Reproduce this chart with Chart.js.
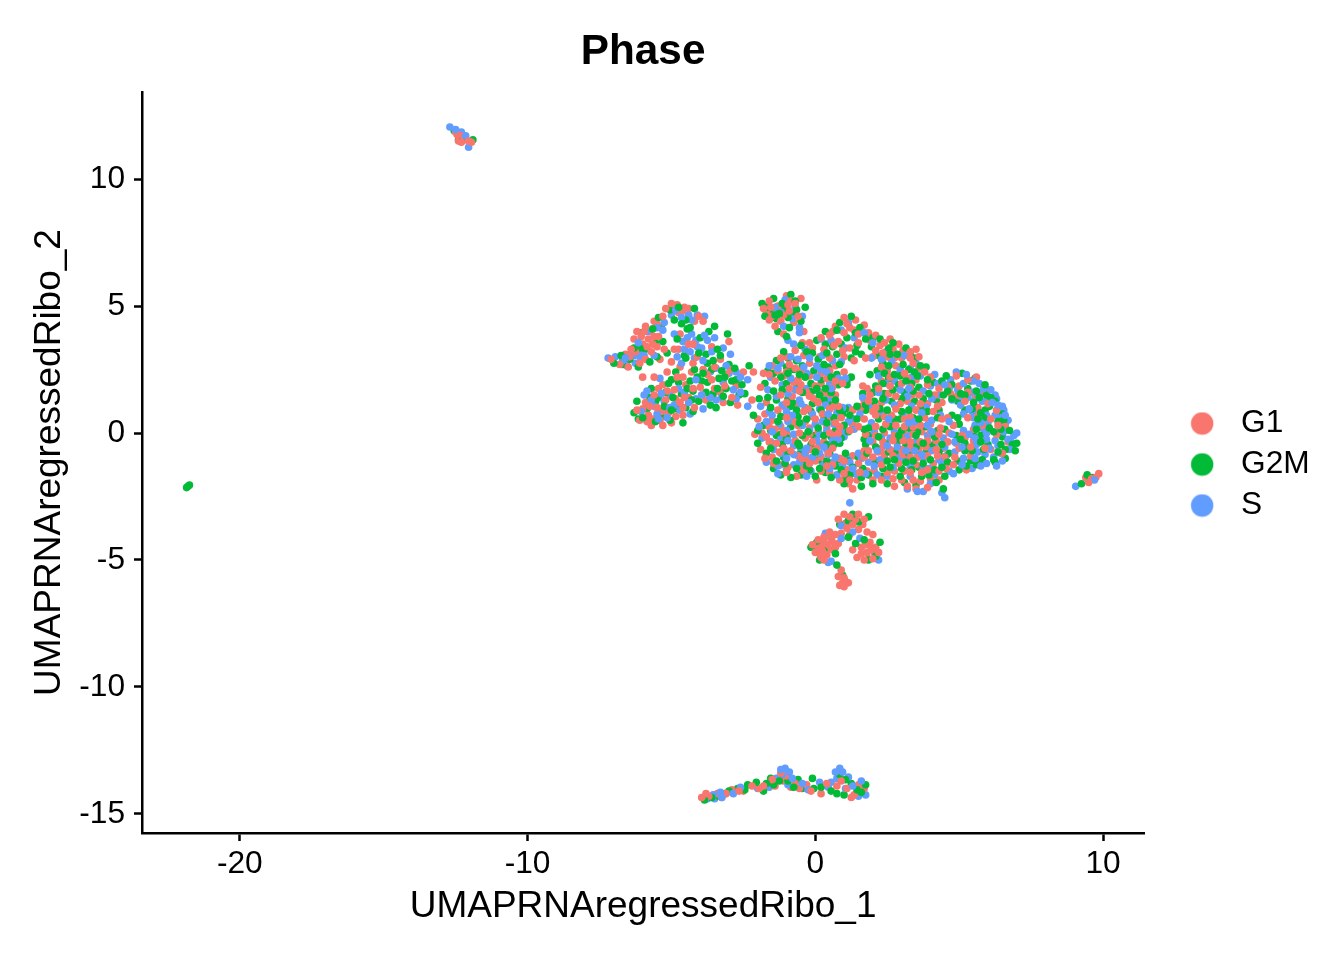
<!DOCTYPE html>
<html>
<head>
<meta charset="utf-8">
<title>Phase</title>
<script src="https://cdn.jsdelivr.net/npm/chart.js@4"></script>
<style>
  body { margin: 0; background: #fff; }
  canvas { display: block; }
</style>
</head>
<body>
<canvas id="umapChart" width="1344" height="960"></canvas>
<script>
// points: [UMAP_1, UMAP_2]
const phaseNames = ['G1', 'G2M', 'S'];
const phaseColors = ['#F8766D', '#00BA38', '#619CFF'];
const xTickStep = 10;
const yTickStep = 5;

const g1Points = [
  // left cluster
  [-7.1,2.9],[-6.8,2.7],[-6.6,3.1],[-6.4,3.3],[-6.3,3.7],[-6.2,4.0],[-6.0,3.5],[-5.9,4.2],[-5.8,3.7],[-5.7,3.2],[-5.6,4.4],[-5.6,3.8],
  [-5.5,3.4],[-5.4,2.9],[-5.3,4.6],[-5.2,4.9],[-5.0,5.1],[-4.8,5.05],[-4.6,4.8],[-4.4,4.9],[-4.2,4.4],[-3.9,4.4],[-4.4,3.5],[-4.1,3.0],
  [-3.6,3.4],[-3.3,2.9],[-5.0,2.8],[-4.7,2.6],[-6.0,2.2],[-5.6,2.2],[-6.2,0.9],[-6.1,0.5],[-5.9,1.2],[-5.8,0.7],[-5.7,0.3],[-5.6,1.5],
  [-5.5,1.0],[-5.4,0.5],[-5.3,1.9],[-5.2,1.3],[-5.1,0.8],[-5.0,0.4],[-4.9,1.7],[-4.8,2.2],[-4.7,1.2],[-4.6,0.7],[-4.5,1.9],[-4.4,1.4],
  [-4.3,2.4],[-4.2,1.0],[-4.0,1.8],[-3.9,2.5],[-3.8,1.3],[-3.6,2.1],[-3.3,1.6],[-3.1,2.3],[-2.9,1.4],[-2.7,1.1],[-2.5,2.4],[-2.2,1.3],
  [-3.2,1.2],[-2.15,2.4],[-4.9,3.3],[-3.0,3.6],[-5.9,2.9],[-6.5,2.6],
  [-6.05,3.8],[-5.75,4.0],[-5.5,4.3],[-5.85,3.4],[-5.65,3.5],[-5.45,3.8],[-5.95,4.0],[-5.25,3.3],[-6.25,3.2],[-4.55,4.95],[-4.75,4.75],[-4.05,4.6],
  [-3.5,2.6],[-4.25,2.75],[-4.6,2.2],[-5.45,1.75],[-5.15,1.65],[-4.85,1.35],[-4.55,1.4],[-4.25,1.75],[-4.6,1.0],[-5.35,0.85],[-5.65,0.55],[-4.85,0.65],
  [-6.0,0.95],[-5.75,1.05],[-3.95,1.5],[-3.5,1.75],[-3.15,1.85],[-2.75,1.85],
  [-4.7,3.9],[-4.75,3.3],[-4.25,3.5],[-6.45,3.0],[-6.1,2.75],[-5.15,2.4],[-3.75,2.3],[-2.95,2.5],[-5.85,0.45],[-5.3,0.3],
  // small top cluster
  [-1.8,4.9],[-1.6,5.2],[-1.5,4.6],[-1.3,5.0],[-1.2,4.4],[-1.0,5.4],[-0.9,4.8],[-0.7,5.1],[-0.6,4.6],[-1.4,4.2],[-0.5,5.3],[-1.1,3.9],[-0.4,4.0],
  [-1.55,4.95],[-1.1,4.65],[-0.85,5.2],[-1.35,4.75],[-0.75,4.35],[-1.7,4.75],[-1.25,4.85],[-0.95,5.05],[-1.6,4.45],
  // main cluster
  [1.0,4.55],[1.4,4.45],[0.7,4.2],[1.2,4.15],[1.7,4.25],[0.5,3.85],[1.0,3.95],[1.5,3.9],[2.1,3.85],[-0.2,3.55],[0.8,3.6],[1.9,3.65],
  [2.4,3.55],[2.9,3.5],[-0.7,3.25],[0.3,3.3],[1.2,3.35],[2.1,3.25],[2.7,3.3],[3.3,3.2],[-1.2,2.95],[-0.4,3.05],[0.5,2.95],[1.0,3.0],
  [2.5,3.0],[3.0,2.95],[3.6,3.0],[-1.5,2.65],[-0.9,2.7],[-0.2,2.75],[0.7,2.65],[2.0,3.0],[2.8,2.65],[3.4,2.75],[-1.8,2.35],[-1.0,2.4],
  [-0.5,2.45],[0.2,2.35],[1.0,2.4],[2.5,2.45],[3.1,2.35],[3.8,2.4],[-1.4,2.05],[-0.6,2.1],[0.4,2.15],[2.3,2.05],
  [3.5,2.1],[4.9,2.25],[5.3,2.1],[-1.9,1.8],[-0.9,1.75],[0,1.85],[0.6,1.8],[1.8,1.75],[2.6,1.85],[3.3,1.8],[4.3,1.75],[5.0,1.85],
  [-1.2,1.5],[-0.2,1.45],[0.5,1.55],[1.9,1.5],[2.8,1.45],[3.6,1.5],[4.7,1.55],[5.6,1.45],[-1.7,1.2],[-0.7,1.15],[0.1,1.2],[0.8,1.05],
  [1.6,1.05],[2.3,1.2],[3.2,1.25],[3.9,1.15],[4.4,1.2],[5.2,1.25],[6.0,1.15],[-1.3,0.9],[-0.4,0.85],[0.5,0.95],[1.3,0.9],[2.0,0.85],
  [2.8,0.95],[3.5,0.9],[4.1,0.85],[4.8,0.3],[5.6,0.85],[6.3,0.9],[-2.0,0.55],[-1.0,0.6],[0.0,0.55],[0.9,0.6],[1.7,0.55],[2.4,0.65],
  [3.1,0.55],[3.8,0.6],[4.4,0.55],[5.3,0.6],[6.1,0.55],[-1.6,0.25],[-0.6,0.3],[0.4,0.25],[1.3,0.3],[2.1,0.25],[2.8,0.3],[3.4,0.25],
  [4.0,0.35],[5.8,0.3],[6.6,0.25],[-2.1,-0.05],[-1.1,0],[-0.2,-0.05],[0.8,0],[1.75,-0.05],[2.4,0],[3.1,-0.05],[3.7,0.05],
  [4.3,-0.05],[5.1,-0.1],[6.3,-0.05],[-1.6,-0.35],[-0.7,-0.3],[0.3,-0.35],[2.0,-0.35],[2.7,-0.3],[3.3,-0.35],[3.9,-0.3],[4.6,-0.35],
  [5.5,-0.3],[6.7,-0.35],[-1.9,-0.65],[-1.1,-0.6],[-0.2,-0.65],[0.6,-0.6],[1.7,-0.7],[2.3,-0.6],[3.0,-0.65],[3.6,-0.6],[4.2,-0.65],[5.0,-0.6],
  [6.1,-0.65],[-1.5,-0.95],[-0.6,-0.9],[0.2,-0.95],[1.3,-0.9],[2.0,-0.95],[2.7,-0.9],[3.3,-0.95],[3.9,-0.9],[4.5,-0.95],[5.4,-0.9],[-1.2,-1.25],
  [-0.2,-1.2],[0.6,-1.25],[1.5,-1.2],[2.3,-1.25],[2.9,-1.2],[3.5,-1.25],[4.1,-1.2],[4.8,-1.25],[-1.0,-1.55],[-0.4,-1.5],[0.5,-1.55],[1.8,-1.5],
  [2.5,-1.55],[3.1,-1.5],[3.7,-1.55],[4.3,-1.5],[1.2,-1.85],[2.0,-1.85],[2.7,-1.8],[3.4,-1.85],[4.0,-1.8],[1.3,-2.2],[3.2,-2.1],[3.9,-2.15],
  [1.1,4.3],[0.6,4.0],[1.35,4.05],[1.85,3.95],[0.2,3.75],[0.65,3.45],[1.5,3.55],[2.25,3.45],[2.6,3.7],[-0.45,3.55],[-0.1,3.35],[0.95,3.25],
  [2.35,3.15],[3.05,3.25],[3.5,3.3],[-1.0,3.0],[0.15,3.0],[2.75,2.95],[3.3,2.95],[-1.3,2.45],[-0.7,2.55],[0.5,2.45],[2.3,2.6],[3.6,2.55],
  [-0.2,2.25],[0.7,2.05],[2.6,2.2],[3.2,2.15],[4.0,2.2],[5.6,2.2],[-0.5,1.9],[0.3,1.6],[2.2,1.75],[3.0,1.95],[3.9,1.9],[4.6,1.85],
  [5.3,1.6],[-0.8,1.45],[-0.05,1.35],[1.85,1.25],[2.55,1.55],[3.35,1.5],[4.15,1.5],[5.85,1.6],[-1.1,1.05],[0.65,1.05],[2.1,1.0],[2.95,1.15],
  [3.65,1.15],[4.25,1.05],[-0.1,0.65],[-1.5,0.5],[0.55,0.6],[2.1,0.7],[2.65,0.7],[3.3,0.65],[3.95,0.45],[5.65,0.65],[-1.2,0.25],[-0.2,0.2],
  [0.85,0.25],[1.5,0.25],[2.45,0.35],[3.1,0.25],[3.65,0.3],[4.35,0.2],[-1.85,0.0],[-0.55,0.0],[0.5,0.0],[2.1,-0.1],[2.75,-0.1],[3.4,-0.05],
  [4.0,0.05],[4.65,0.0],[-1.35,-0.4],[-0.1,-0.35],[2.35,-0.35],[3.05,-0.3],[3.65,-0.35],[4.2,-0.3],[4.9,-0.4],[-0.85,-0.7],[0.05,-0.6],[1.85,-0.7],
  [2.6,-0.65],[3.3,-0.6],[3.85,-0.55],[4.45,-0.6],[5.4,-0.55],[-1.75,-1.0],[-0.3,-1.0],[1.7,-0.95],[2.4,-0.85],[3.05,-0.85],[3.55,-0.95],[4.25,-0.9],
  [4.85,-0.95],[-0.95,-1.35],[0.2,-1.5],[1.1,-1.45],[2.05,-1.5],[2.75,-1.5],[3.3,-1.55],[3.9,-1.45],[4.55,-1.4],[5.25,-1.45],[-0.65,-1.7],[0.05,-1.85],
  [1.45,-1.85],[2.3,-1.85],[3.0,-1.85],[3.65,-1.9],[4.3,-1.85],[2.75,-2.1],[3.5,-2.2],[1.15,-2.0],
  [0.95,1.95],[1.75,2.95],[1.35,2.85],[1.65,1.85],[0.7,1.5],[1.7,1.3],[1.55,0.95],[1.2,0.1],[1.0,-1.1],[-1.6,2.3],[-1.1,2.25],[-0.75,2.0],
  [-0.3,1.6],[0.2,1.95],[-0.55,1.65],[-1.0,1.2],[-0.25,0.95],[0.25,0.75],[-0.75,0.45],[-1.75,0.75],[-0.35,0.45],[0.7,0.4],[-1.4,0.15],[-0.95,-0.1],
  [0.1,0.05],[0.65,-0.1],[-1.7,-0.15],[-0.35,-0.2],[-1.25,-0.75],[0.45,-0.8],[-0.45,-1.0],[0.85,-1.0],[-1.45,-1.2],[0.0,-1.1],[-0.5,-1.3],[0.4,-1.3],
  [1.0,-1.6],[1.55,-1.55],[0.85,-1.85],[2.2,-0.75],[4.6,0.6],[5.5,0.15],[6.35,0.3],[5.9,-0.6],[6.5,-0.8],[5.2,-0.2],[5.65,1.0],[4.95,1.5],[5.75,-1.1],
  // lower cluster
  [-0.1,-4.4],[0.0,-4.7],[0.1,-4.2],[0.2,-4.5],[0.2,-4.9],[0.3,-4.1],[0.4,-4.4],[0.4,-4.8],[0.5,-3.9],[0.6,-4.3],[0.6,-4.6],[0.7,-4.0],
  [0.8,-4.35],[0.9,-3.95],[0.8,-3.4],[1.0,-3.2],[1.2,-3.3],[1.3,-3.6],[1.5,-3.2],[1.7,-3.4],[1.5,-3.8],[1.8,-3.9],[2.0,-4.0],[1.2,-4.0],
  [1.6,-4.5],[1.8,-4.7],[1.9,-4.3],[2.1,-4.5],[1.7,-5.0],[2.0,-4.95],[2.2,-4.7],[1.3,-4.6],[0.9,-5.4],[1.0,-5.7],[0.85,-6.0],[1.0,-6.05],[1.15,-5.9],[0.8,-5.65],
  [0.05,-4.55],[0.15,-4.75],[0.3,-4.3],[0.45,-4.55],[0.25,-4.65],[0.55,-4.15],[0.7,-4.5],[0.3,-5.0],[1.05,-3.55],[1.4,-3.4],[1.65,-3.6],[1.1,-3.75],
  [1.75,-4.4],[1.95,-4.55],[1.6,-4.75],[1.85,-4.95],[2.05,-4.7],[1.45,-4.9],[0.95,-5.9],
  // bottom band
  [-3.95,-14.35],[-3.7,-14.3],[-3.4,-14.2],[-3.1,-14.2],[-2.9,-14.05],[-2.5,-14.1],[-2.2,-13.9],[-1.8,-13.9],[-1.5,-13.65],[-1.2,-13.4],[-1.0,-13.5],[-0.7,-13.8],
  [-0.3,-13.85],[0.4,-13.8],[0.9,-13.7],[1.1,-14.0],[1.35,-14.25],[1.7,-14.0],[0.2,-14.2],[-0.85,-13.95],
  [-3.8,-14.2],[-3.25,-14.35],[-2.65,-14.1],[-1.95,-14.0],[-1.4,-13.9],[-1.1,-13.7],[-0.55,-14.0],[-0.15,-14.1],[0.75,-13.9],[1.5,-13.85],[1.25,-14.35],
  // small outlying groups
  [-12.45,11.75],[-12.35,11.65],[-12.2,11.55],[-12.05,11.5],[-12.3,11.45],[-11.95,11.45],[-12.5,11.85],[-12.25,11.7],[-12.4,11.5],
  [9.4,-1.75],[9.5,-1.95],[9.6,-1.8],[9.75,-1.75],[9.85,-1.6]
];

const g2mPoints = [
  // left cluster
  [-7.0,2.75],[-6.75,3.05],[-6.45,2.9],[-6.3,3.35],[-6.15,2.6],[-6.05,3.95],[-5.9,3.3],[-5.75,2.8],[-5.65,4.1],[-5.45,4.55],[-5.3,3.6],[-5.15,3.15],
  [-5.05,4.85],[-4.9,4.45],[-4.75,4.95],[-4.5,4.45],[-4.35,4.15],[-4.2,4.9],[-4.0,3.75],[-3.8,3.1],[-3.7,4.0],[-3.55,2.85],[-3.4,3.3],[-3.25,2.45],
  [-4.5,2.95],[-4.2,2.5],[-4.85,2.4],[-3.0,2.7],[-2.8,2.55],[-2.55,1.9],[-2.9,2.05],[-3.1,1.75],[-3.35,2.15],[-3.55,1.55],[-3.75,2.0],[-3.9,2.35],
  [-4.05,1.25],[-4.25,1.65],[-4.35,2.05],[-4.5,1.0],[-4.65,1.55],[-4.8,0.95],[-4.95,1.4],[-5.1,1.95],[-5.25,1.05],[-5.35,0.65],[-5.55,1.25],[-5.7,1.75],
  [-5.85,0.95],[-6.0,0.6],[-6.2,1.25],[-6.3,0.8],[-3.45,1.0],[-2.45,1.55],[-2.3,2.65],[-4.6,0.4],[-3.65,1.1],[-5.0,2.1],[-3.05,3.9],
  [-6.55,2.95],[-6.1,3.35],[-5.55,3.55],[-5.35,4.15],[-4.65,4.3],[-4.05,3.15],[-3.75,2.75],[-3.3,3.05],[-3.15,2.2],[-2.65,1.5],[-2.95,1.2],[-3.4,1.75],
  [-3.8,1.6],[-4.1,2.2],[-4.45,1.75],[-4.75,2.0],[-5.2,1.6],[-5.45,1.4],[-5.0,0.9],[-5.55,0.45],[-5.05,0.5],[-4.3,1.3],[-3.95,2.05],[-3.6,2.5],
  [-4.55,3.05],[-4.45,4.1],[-4.8,3.7],[-3.5,4.2],[-6.7,2.7],[-5.5,3.0],[-5.75,1.4],[-6.15,0.55],[-4.25,0.85],[-3.2,1.45],[-2.75,2.1],
  // small top cluster
  [-1.85,5.1],[-1.75,4.6],[-1.55,4.85],[-1.45,5.3],[-1.25,4.7],[-1.15,5.1],[-0.95,4.55],[-0.85,5.45],[-0.65,4.85],[-0.5,4.4],[-1.3,4.0],[-0.9,4.15],[-1.0,3.8],[-0.35,4.95],
  [-1.65,4.95],[-1.05,4.9],[-0.75,4.65],[-1.35,4.5],[-1.4,4.65],[-0.7,5.2],
  // main cluster
  [1.25,4.6],[0.85,4.35],[1.55,4.15],[1.1,3.75],[0.35,4.0],[1.75,3.7],[2.25,3.7],[0.05,3.65],[-0.5,3.45],[0.6,3.4],[1.45,3.45],[1.95,3.4],
  [2.55,3.35],[3.15,3.35],[-1.1,3.2],[-0.1,3.15],[0.75,3.1],[1.25,2.95],[2.2,3.05],[2.85,3.1],[3.45,2.95],[-1.35,2.85],[-0.65,2.85],[0.1,2.9],
  [0.45,2.6],[2.35,2.75],[3.05,2.7],[3.65,2.65],[-1.65,2.45],[-0.75,2.5],[-0.05,2.45],[0.75,2.3],[2.15,2.45],[2.75,2.3],[3.45,2.4],
  [-1.2,2.2],[-0.35,2.2],[0.2,2.1],[1.1,2.05],[2.55,2.15],[3.15,2.05],[3.9,2.1],[4.55,2.25],[5.1,2.35],[5.55,2.15],[-1.75,1.95],
  [-0.65,1.85],[0.35,1.75],[2.1,1.85],[2.9,1.9],[3.6,1.8],[4.1,2.0],[4.75,1.9],[5.3,1.75],[5.9,1.9],[-1.45,1.65],[-0.45,1.6],[0.15,1.5],
  [1.65,1.55],[2.4,1.55],[3.1,1.6],[3.95,1.55],[4.45,1.5],[5.05,1.55],[5.95,1.5],[-1.95,1.35],[-0.95,1.35],[-0.1,1.15],[0.7,1.3],[1.45,1.05],
  [2.05,1.25],[2.65,1.25],[3.45,1.25],[4.2,1.3],[4.95,1.25],[5.5,1.2],[6.25,1.25],[-1.55,1.0],[-0.65,0.9],[0.2,0.9],[1.05,0.95],[1.75,0.9],
  [2.5,0.9],[3.25,0.9],[3.9,0.85],[4.3,0.9],[5.2,0.9],[5.9,0.9],[6.5,0.75],[-2.15,0.7],[-1.2,0.65],[-0.3,0.55],[0.65,0.6],[1.45,0.55],
  [2.2,0.55],[2.95,0.55],[3.6,0.55],[4.25,0.6],[4.95,0.6],[5.65,0.55],[6.35,0.45],[-1.8,0.3],[-0.85,0.25],[0.1,0.2],[1.0,0.3],[1.85,0.2],
  [2.6,0.25],[3.25,0.2],[3.85,0.25],[4.5,0.15],[5.6,0.15],[6.05,0.2],[6.75,0.1],[-1.35,-0.1],[-0.45,-0.1],[0.55,-0.15],[1.85,-0.1],[2.2,-0.15],
  [2.9,-0.1],[3.5,-0.1],[4.15,-0.15],[4.9,-0.1],[5.75,-0.1],[6.5,-0.15],[-2.0,-0.4],[-1.15,-0.45],[-0.15,-0.45],[0.85,-0.4],[1.75,-0.45],[2.45,-0.4],
  [3.15,-0.45],[3.75,-0.4],[4.4,-0.45],[5.2,-0.4],[6.0,-0.45],[6.85,-0.45],[-1.7,-0.8],[-0.85,-0.75],[0.0,-0.75],[1.05,-0.8],[1.8,-0.8],[2.55,-0.75],
  [3.25,-0.8],[3.85,-0.75],[4.65,-0.8],[5.45,-0.7],[6.35,-0.75],[-1.35,-1.1],[-0.4,-1.05],[0.4,-1.1],[1.15,-1.1],[2.1,-1.1],[2.75,-1.05],[3.4,-1.1],
  [4.0,-1.05],[4.95,-1.1],[5.8,-1.05],[6.6,-1.0],[-1.45,-1.4],[-0.65,-1.4],[0.15,-1.4],[0.9,-1.45],[1.65,-1.4],[2.35,-1.4],[3.0,-1.4],[3.6,-1.35],
  [4.4,-1.35],[5.25,-1.3],[-0.85,-1.75],[0.0,-1.7],[1.05,-1.75],[1.6,-1.75],[2.3,-1.7],[2.95,-1.7],[3.7,-1.7],[4.5,-1.7],[1.0,-2.0],[1.6,-2.1],
  [2.5,-2.0],[3.5,-2.05],[4.2,-1.95],[4.45,-2.2],
  [0.75,4.05],[1.4,3.95],[2.0,3.75],[0.35,3.5],[0.9,3.5],[2.7,3.55],[-0.3,3.2],[0.4,3.15],[1.4,3.2],[2.6,3.1],[3.3,3.1],[-0.95,2.95],
  [0.3,2.7],[0.85,2.7],[2.55,2.65],[3.25,2.5],[3.85,2.6],[-1.0,2.6],[-0.45,2.65],[0.55,2.2],[2.4,2.35],[2.95,2.25],[3.55,2.25],[-1.0,1.95],
  [-0.15,1.95],[0.8,1.9],[2.35,1.95],[3.35,1.95],[4.4,2.05],[5.4,2.05],[-1.15,1.7],[-0.1,1.65],[2.0,1.6],[2.7,1.7],[3.4,1.65],[4.6,1.65],
  [5.6,1.65],[6.1,1.4],[-1.35,1.3],[0.3,1.3],[2.35,1.35],[3.0,1.35],[3.75,1.35],[5.7,1.4],[-0.85,1.05],[-0.15,0.85],[0.95,0.75],[2.25,0.95],
  [3.0,0.85],[3.65,0.95],[5.45,0.95],[6.05,1.05],[-0.6,0.65],[0.3,0.55],[1.2,0.7],[2.75,0.55],[3.4,0.6],[5.0,0.35],[5.85,0.6],[6.55,0.5],
  [-1.55,0.1],[-0.25,0.05],[1.15,0.05],[2.35,0.15],[3.0,0.1],[3.55,0.05],[4.25,0.1],[5.5,-0.1],[6.2,0.05],[-1.0,-0.2],[0.3,-0.1],[2.1,-0.55],
  [2.85,-0.35],[3.5,-0.55],[4.05,-0.5],[5.05,-0.25],[5.75,-0.35],[6.45,-0.45],[-0.55,-0.5],[0.4,-0.45],[2.8,-0.7],[3.55,-0.75],[4.3,-0.75],[5.2,-0.7],
  [5.85,-0.65],[6.6,-0.65],[-1.1,-0.95],[0.1,-1.05],[0.8,-1.05],[2.5,-1.1],[3.15,-1.15],[3.75,-1.2],[4.6,-1.15],[5.6,-1.25],[6.25,-1.15],[-0.2,-1.45],
  [0.55,-1.75],[1.3,-1.35],[2.6,-1.35],[3.35,-1.45],[4.15,-1.45],[5.0,-1.45],[-1.2,-1.65],[2.0,-2.0],[3.1,-1.95],[3.95,-1.65],
  [1.25,2.2],[1.9,2.3],[1.6,3.1],[1.1,1.9],[1.75,1.1],[0.85,0.9],[1.7,0.15],[0.9,-0.2],[1.7,-0.25],[1.5,-0.95],[-1.45,2.35],[-0.95,2.35],
  [-0.55,2.3],[0.05,1.75],[0.55,1.6],[-1.65,1.4],[-0.8,1.2],[0.55,1.1],[-1.3,0.45],[-0.55,0.4],[0.4,0.4],[-2.0,0.1],[-1.2,-0.05],[-0.05,-0.1],
  [0.7,0.1],[-1.55,-0.6],[-0.6,-0.4],[0.65,-0.45],[-1.05,-0.75],[-0.55,-0.85],[0.5,-0.8],[0.7,-1.3],[-0.3,-1.3],[-1.05,-1.2],[1.2,-1.65],[1.85,-1.65],
  [0.35,-1.55],[-0.5,-1.65],[4.75,0.7],[5.75,0.8],[6.45,0.15],[7.0,-0.4],[6.95,-0.7],[6.2,-1.05],[5.4,-1.1],[5.95,1.7],[5.2,1.5],[4.75,1.35],
  // lower cluster
  [-0.15,-4.5],[0.05,-4.3],[0.3,-4.65],[0.55,-4.15],[0.15,-5.0],[0.7,-4.75],[0.75,-5.2],[0.85,-3.6],[1.15,-3.45],[1.3,-3.2],[1.5,-3.5],[1.85,-3.3],[1.7,-4.2],[1.4,-4.35],[2.1,-4.85],[1.85,-5.0],[2.25,-4.3],[0.95,-5.6],[1.05,-5.85],[1.15,-4.1],
  // bottom band
  [-3.85,-14.45],[-3.6,-14.35],[-3.35,-14.3],[-3.0,-14.1],[-2.7,-14.0],[-2.35,-13.85],[-2.05,-13.75],[-1.7,-13.8],[-1.45,-13.85],[-1.25,-13.7],[-0.95,-13.7],[-0.6,-13.65],
  [-0.45,-14.0],[-0.1,-13.6],[-0.05,-14.0],[0.2,-13.95],[0.55,-14.1],[0.85,-13.45],[1.0,-14.25],[1.25,-13.8],[1.6,-14.15],[1.75,-13.85],[0.75,-14.2],[-1.8,-14.1],
  [-3.15,-14.2],[-2.45,-14.05],[-1.55,-13.6],[-0.75,-13.95],[1.45,-14.05],[1.05,-13.65],
  // small outlying groups
  [-12.55,11.9],[-12.25,11.6],[-12.4,11.55],[-11.9,11.55],
  [-21.85,-2.15],[-21.75,-2.05],[-21.8,-2.1],
  [9.25,-2.0],[9.45,-1.65],[9.55,-1.85],[9.65,-1.75]
];

const sPoints = [
  // left cluster
  [-7.2,2.95],[-6.95,3.0],[-6.7,2.85],[-6.55,2.65],[-6.25,2.75],[-6.4,3.15],[-6.1,3.0],[-6.15,3.55],[-5.95,3.05],[-5.85,4.0],[-5.6,3.05],[-5.5,4.15],
  [-5.25,4.35],[-5.0,4.65],[-4.65,4.55],[-4.4,4.65],[-4.1,4.65],[-3.85,4.6],[-4.3,3.9],[-4.6,3.6],[-4.1,3.4],[-3.75,3.65],[-3.9,2.85],[-4.35,3.2],
  [-3.5,3.75],[-3.2,3.35],[-2.95,3.1],[-2.75,2.4],[-2.6,2.2],[-2.35,2.1],[-2.6,1.6],[-2.85,1.7],[-3.2,2.0],[-3.45,1.3],[-3.65,2.4],[-3.95,1.5],
  [-4.15,2.1],[-4.4,1.2],[-4.55,1.6],[-4.7,0.9],[-4.9,1.1],[-5.05,1.5],[-5.15,0.6],[-5.35,1.55],[-5.5,0.75],[-5.7,1.3],[-5.95,1.5],[-6.05,0.85],[-5.25,0.9],
  [-4.35,0.75],[-3.9,0.95],[-5.4,2.15],[-2.35,1.05],[-4.9,3.9],
  [-4.45,3.75],[-4.15,3.65],[-3.85,3.85],[-3.6,3.2],[-3.95,3.35],[-4.2,2.95],[-4.55,3.3],[-3.45,2.55],[-3.0,2.35],[-2.75,1.35],[-3.25,1.4],[-4.75,1.75],
  [-5.6,1.05],[-5.85,1.65],[-5.25,1.25],[-4.15,1.35],[-6.6,2.95],[-5.3,4.05],[-4.85,4.85],[-4.3,4.45],
  [-4.8,3.0],[-6.3,3.05],[-6.0,3.2],[-5.45,0.55],[-5.05,1.0],[-3.65,1.4],[-3.1,2.65],[-4.65,2.75],
  // small top cluster
  [-1.7,5.0],[-1.55,4.55],[-1.4,4.95],[-1.2,4.75],[-1.05,5.25],[-0.8,4.5],[-0.7,4.95],[-0.55,4.15],[-0.45,4.6],[-1.1,4.2],[-0.55,3.95],[-0.95,3.65],[-0.75,3.5],
  // main cluster
  [1.15,4.35],[0.9,4.05],[1.35,3.75],[0.2,3.7],[1.7,3.95],[2.0,3.55],[-0.35,3.3],[0.55,3.65],[1.05,3.35],[2.45,3.2],[3.1,3.05],[-0.85,3.0],
  [0.25,3.05],[0.9,2.8],[1.95,2.95],[2.65,2.85],[3.3,2.55],[-1.3,2.55],[-0.4,2.6],[0.4,2.4],[2.2,2.25],[2.95,2.5],[3.65,2.25],[-1.55,2.2],
  [-0.85,2.15],[0.05,2.2],[0.8,2.15],[2.45,1.95],[3.35,2.2],[4.0,1.85],[4.7,2.1],[5.25,2.3],[5.7,1.95],[6.1,1.7],[-1.65,1.7],
  [-0.95,1.55],[-0.3,1.75],[0.45,1.35],[2.2,1.6],[2.95,1.7],[3.75,1.65],[4.25,1.95],[4.95,1.7],[5.45,1.6],[6.0,1.35],[6.35,1.1],[-1.9,1.05],
  [-1.15,1.1],[-0.35,1.0],[0.35,1.1],[1.15,1.0],[1.95,1.05],[2.75,1.1],[3.35,1.05],[4.05,1.35],[5.05,1.1],[5.3,1.4],[5.8,1.25],[6.55,0.9],
  [-1.5,0.7],[-0.8,0.7],[-0.1,0.75],[0.75,0.8],[1.55,0.75],[2.3,0.8],[3.05,0.75],[3.7,0.8],[4.35,0.7],[5.15,0.75],[5.45,0.85],[5.95,0.7],
  [6.45,0.6],[6.7,0.5],[-1.95,0.25],[-1.25,0.35],[-0.45,0.3],[0.25,0.45],[1.15,0.45],[1.95,0.4],[2.7,0.5],[3.45,0.45],[4.05,0.5],[4.65,0.45],
  [5.75,0.4],[5.55,0.3],[6.0,0.4],[6.45,0.25],[-1.5,0.05],[-0.75,-0.05],[0.15,-0.05],[0.95,0.1],[2.05,0.05],[2.75,0.05],[3.35,0.05],[4.05,0.05],
  [4.75,-0.05],[5.35,-0.05],[5.95,0.0],[6.55,0.05],[6.9,-0.1],[-1.85,-0.2],[-0.95,-0.3],[0.05,-0.3],[0.8,-0.25],[1.9,-0.3],[2.6,-0.2],[3.5,-0.35],
  [4.15,-0.4],[4.85,-0.35],[5.6,-0.45],[6.25,-0.3],[6.75,-0.65],[-1.45,-0.65],[-0.5,-0.65],[0.4,-0.65],[2.15,-0.7],[2.85,-0.55],[3.45,-0.7],
  [4.05,-0.7],[4.85,-0.75],[5.65,-0.75],[6.2,-0.95],[-1.0,-1.0],[-0.1,-0.95],[0.7,-0.95],[1.6,-1.0],[2.4,-0.95],[3.1,-1.0],[3.75,-1.0],[4.3,-1.05],
  [5.15,-1.0],[5.95,-1.2],[6.5,-1.1],[-1.7,-1.15],[-0.75,-1.25],[0.25,-1.25],[1.3,-1.4],[2.05,-1.3],[2.7,-1.35],[3.3,-1.3],[3.95,-1.4],[4.65,-1.5],
  [5.45,-1.4],[-1.3,-1.6],[-0.3,-1.7],[0.75,-1.65],[1.4,-1.6],[2.15,-1.65],[3.3,-1.7],[4.15,-1.65],[4.8,-1.6],[3.2,-2.2],[3.55,-2.3],[4.0,-2.0],[4.5,-2.55],[4.4,-2.35],[3.75,-2.3],
  [-1.6,2.65],[-0.6,2.9],[0.05,2.65],[0.6,2.85],[2.3,2.9],[3.5,2.75],[4.15,2.3],[4.9,2.4],[5.5,2.05],[5.85,1.75],[-0.3,2.35],[-1.15,1.9],
  [0.5,1.95],[2.75,2.05],[3.25,1.75],[4.5,1.9],[5.15,1.95],[5.65,1.55],[6.25,1.5],[-0.55,1.3],[0.1,1.65],[2.45,1.3],[3.2,1.45],[3.85,1.0],
  [4.3,1.5],[4.65,1.75],[5.05,1.45],[5.55,1.35],[6.15,1.2],[6.5,1.05],[-1.6,0.85],[-0.95,0.45],[0.0,0.35],[0.65,0.35],[1.35,0.55],[2.55,0.55],
  [3.25,0.4],[3.9,0.3],[5.15,0.1],[5.5,0.6],[5.85,0.15],[6.25,0.7],[6.6,0.7],[-1.2,-0.25],[0.6,-0.3],[2.3,-0.2],[3.2,-0.15],[3.9,-0.1],
  [4.45,-0.2],[5.1,-0.55],[5.55,-0.2],[5.95,-0.25],[6.35,-0.5],[6.7,-0.25],[-0.75,-0.5],[0.15,-0.5],[2.5,-0.5],[3.15,-0.7],[3.7,-0.85],[4.5,-0.55],
  [5.3,-0.6],[5.9,-0.85],[6.45,-0.8],[-1.2,-0.8],[-0.35,-0.8],[0.45,-0.85],[1.5,-0.8],[2.25,-1.05],[2.9,-0.95],[4.55,-0.9],[5.55,-1.0],[6.05,-0.6],
  [-0.55,-1.15],[0.95,-1.25],[1.85,-1.15],[3.75,-1.4],[4.4,-1.2],[5.1,-1.25],[5.75,-1.3],[6.3,-1.3],[-1.0,-1.45],[0.4,-1.45],[2.5,-1.7],[4.0,-1.6],
  [1.05,2.15],[1.65,1.4],[0.95,1.0],[1.35,0.15],[1.0,-0.15],[1.1,-1.0],[-1.2,2.75],[-0.2,2.95],[0.2,2.5],[0.55,1.75],[-0.7,1.7],[-1.35,1.45],
  [-0.5,1.15],[0.15,0.95],[-1.0,0.85],[-1.7,0.45],[0.45,0.75],[-0.2,0.1],[0.4,0.1],[-1.0,0.1],[-1.55,-0.35],[-0.3,-0.6],[0.3,-0.55],[-0.75,-0.85],
  [0.15,-0.8],[0.6,-1.15],[-1.3,-1.3],[-0.15,-1.5],[0.5,-1.4],[1.2,-1.15],[1.75,-1.6],[7.0,0.0],[6.8,-0.35],[6.6,0.35],[6.3,1.35],[5.35,0.95],[4.75,1.3],[5.5,-0.6],
  // lower cluster
  [0.55,-5.05],[0.45,-5.1],[0.35,-3.95],[1.2,-2.75],[0.9,-3.65],[1.3,-3.9],[1.55,-4.15],[2.2,-5.0],[0.9,-4.15],
  // bottom band
  [-3.75,-14.4],[-3.5,-14.4],[-3.25,-14.35],[-3.3,-14.15],[-2.85,-14.2],[-2.6,-13.95],[-2.0,-14.0],[-1.6,-13.95],[-1.35,-13.6],[-1.2,-13.25],[-1.05,-13.2],[-0.9,-13.35],
  [-0.8,-13.6],[-0.25,-14.05],[0.15,-13.75],[0.55,-13.75],[0.7,-13.35],[0.85,-13.2],[0.95,-13.35],[1.15,-13.55],[1.05,-14.0],[1.5,-14.3],[1.75,-14.25],[1.6,-13.7],[-0.45,-13.8],
  [-3.55,-14.25],[-1.15,-13.45],[-0.95,-13.85],[0.45,-13.95],[0.75,-13.6],[1.3,-13.9],
  // small outlying groups
  [-12.7,12.05],[-12.5,11.95],[-12.15,11.7],[-12.3,11.85],[-12.05,11.25],
  [9.05,-2.1],[9.7,-1.85]
];

// the groups are split in layers so the colours overlap like in the picture
const layerCount = 7;
const phasePoints = [g1Points, g2mPoints, sPoints];
const datasets = [];
for (let layer = 0; layer < layerCount; layer++) {
  phasePoints.forEach((points, p) => {
    datasets.push({
      label: phaseNames[p],
      data: points.filter((pt, i) => i % layerCount === layer).map(pt => ({ x: pt[0], y: pt[1] })),
      backgroundColor: phaseColors[p],
      pointRadius: 3.8,
      pointBorderWidth: 0,
      clip: false
    });
  });
}

// legend dot, the canvas keeps it round with the wider legend box
function legendDot(color) {
  const dot = document.createElement('canvas');
  dot.width = 24;
  dot.height = 24;
  const c = dot.getContext('2d');
  c.fillStyle = color;
  c.beginPath();
  c.arc(12, 12, 11.2, 0, Math.PI * 2);
  c.fill();
  return dot;
}

// the legend sits a bit away from the plot
const legendNudge = {
  id: 'legendNudge',
  afterLayout(chart) {
    const legend = chart.legend;
    legend.left += 25.7;
    legend.right += 25.7;
    legend.top -= 15.5;
    legend.bottom -= 15.5;
  }
};

const tickFont = { family: 'Liberation Sans', size: 31.7 };
const labelFont = { family: 'Liberation Sans', size: 37 };

new Chart(document.getElementById('umapChart'), {
  type: 'scatter',
  data: { datasets },
  plugins: [legendNudge],
  options: {
    responsive: false,
    animation: false,
    layout: { padding: { right: 50 } },
    plugins: {
      title: {
        display: true,
        text: 'Phase',
        color: '#000',
        fullSize: false,
        font: { family: 'Liberation Sans', size: 42.3, weight: 'bold' },
        padding: { top: 27, bottom: 14.2 }
      },
      tooltip: { enabled: false },
      legend: {
        position: 'right',
        labels: {
          color: '#000',
          font: tickFont,
          padding: 9.3,
          usePointStyle: true,
          pointStyleWidth: 46,
          boxHeight: 16,
          filter: item => item.datasetIndex < phaseNames.length,
          generateLabels: () => phaseNames.map((name, p) => ({
            text: name,
            datasetIndex: p,
            fillStyle: phaseColors[p],
            strokeStyle: phaseColors[p],
            lineWidth: 0,
            pointStyle: legendDot(phaseColors[p])
          }))
        }
      }
    },
    scales: {
      x: {
        type: 'linear',
        min: -23.4,
        max: 11.43,
        afterFit: scale => { scale.height = 127; },
        border: { color: '#000', width: 2.5 },
        grid: { drawOnChartArea: false, tickLength: 8, tickColor: '#000', tickWidth: 2.5 },
        ticks: { stepSize: xTickStep, includeBounds: false, color: '#000', font: tickFont, padding: 4, maxRotation: 0 },
        title: { display: true, text: 'UMAPRNAregressedRibo_1', color: '#000', font: labelFont, padding: { top: 0, bottom: 31 } }
      },
      y: {
        type: 'linear',
        min: -15.75,
        max: 13.43,
        afterFit: scale => { scale.width = 142; },
        border: { color: '#000', width: 2.5 },
        grid: { drawOnChartArea: false, tickLength: 8, tickColor: '#000', tickWidth: 2.5 },
        ticks: { stepSize: yTickStep, includeBounds: false, color: '#000', font: tickFont, padding: 9 },
        title: { display: true, text: 'UMAPRNAregressedRibo_2', color: '#000', font: labelFont, padding: { top: 28, bottom: 0 } }
      }
    }
  }
});
</script>
</body>
</html>
